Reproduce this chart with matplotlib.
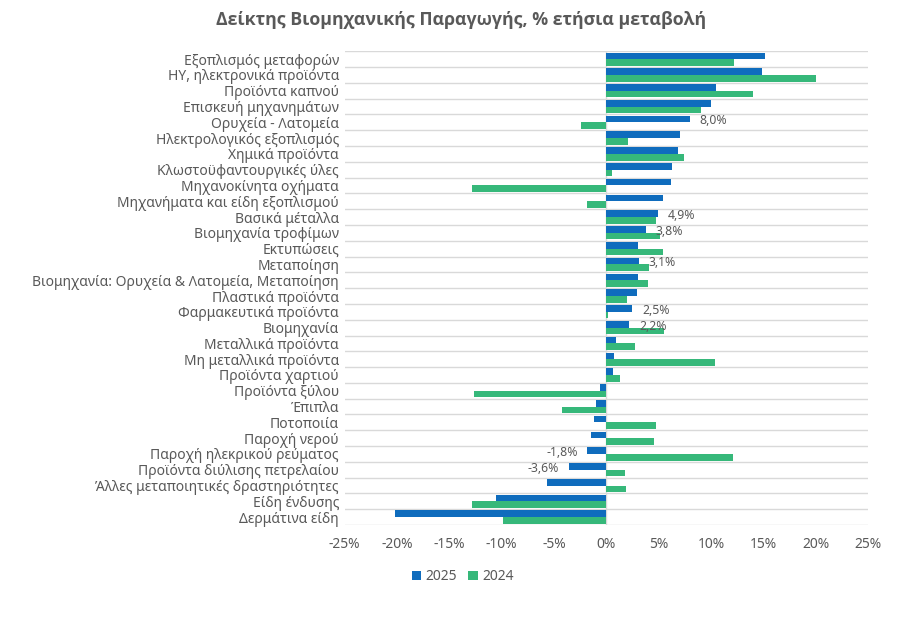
import matplotlib
matplotlib.use("Agg")
import matplotlib.pyplot as plt
from matplotlib.ticker import FuncFormatter, MultipleLocator

plt.rcParams['font.family'] = ['Noto Sans', 'DejaVu Sans']

categories = [
    "Εξοπλισμός μεταφορών", "ΗΥ, ηλεκτρονικά προϊόντα", "Προϊόντα καπνού",
    "Επισκευή μηχανημάτων", "Ορυχεία - Λατομεία", "Ηλεκτρολογικός εξοπλισμός",
    "Χημικά προϊόντα", "Κλωστοϋφαντουργικές ύλες", "Μηχανοκίνητα οχήματα",
    "Μηχανήματα και είδη εξοπλισμού", "Βασικά μέταλλα", "Βιομηχανία τροφίμων",
    "Εκτυπώσεις", "Μεταποίηση", "Βιομηχανία: Ορυχεία & Λατομεία, Μεταποίηση",
    "Πλαστικά προϊόντα", "Φαρμακευτικά προϊόντα", "Βιομηχανία",
    "Μεταλλικά προϊόντα", "Μη μεταλλικά προϊόντα", "Προϊόντα χαρτιού",
    "Προϊόντα ξύλου", "Έπιπλα", "Ποτοποιία", "Παροχή νερού",
    "Παροχή ηλεκρικού ρεύματος", "Προϊόντα διύλισης πετρελαίου",
    "Άλλες μεταποιητικές δραστηριότητες", "Είδη ένδυσης", "Δερμάτινα είδη",
]
y2025 = [15.2, 14.9, 10.5, 10.0, 8.0, 7.0, 6.8, 6.3, 6.2, 5.4, 4.9, 3.8,
         3.0, 3.1, 3.0, 2.9, 2.5, 2.2, 0.9, 0.7, 0.6, -0.6, -1.0, -1.2,
         -1.5, -1.8, -3.6, -5.7, -10.5, -20.2]
y2024 = [12.2, 20.0, 14.0, 9.0, -2.4, 2.1, 7.4, 0.55, -12.8, -1.8, 4.7, 5.1,
         5.4, 4.1, 4.0, 2.0, 0.2, 5.5, 2.7, 10.4, 1.3, -12.6, -4.2, 4.7,
         4.6, 12.1, 1.8, 1.9, -12.8, -9.9]
labelled = ["Ορυχεία - Λατομεία", "Βασικά μέταλλα", "Βιομηχανία τροφίμων",
            "Μεταποίηση", "Φαρμακευτικά προϊόντα", "Βιομηχανία",
            "Παροχή ηλεκρικού ρεύματος", "Προϊόντα διύλισης πετρελαίου"]

blue = '#0F6CBD'
green = '#36B87A'
grey = '#595959'

fig = plt.figure(figsize=(9.07, 6.25), dpi=100)
ax = fig.add_axes([0.380, 0.160, 0.577, 0.758])

n = len(categories)
pos = list(range(n))
h = 0.42
ax.barh([p - h / 2 for p in pos], y2025, height=h, color=blue, label='2025', zorder=3)
ax.barh([p + h / 2 for p in pos], y2024, height=h, color=green, label='2024', zorder=3)

for i, c in enumerate(categories):
    if c in labelled:
        v = y2025[i]
        txt = f"{v:.1f}%".replace('.', ',')
        if v >= 0:
            ax.annotate(txt, (v, i - 0.1), xytext=(7, 0), textcoords='offset points',
                        ha='left', va='center', fontsize=8.8, color=grey, zorder=4)
        else:
            ax.annotate(txt, (v, i - 0.1), xytext=(-7, 0), textcoords='offset points',
                        ha='right', va='center', fontsize=8.8, color=grey, zorder=4)

ax.set_ylim(n - 0.5, -0.5)
ax.set_xlim(-25, 25)
ax.set_yticks(pos)
ax.set_yticklabels(categories, fontsize=10, color=grey)
ax.set_yticks([p + 0.5 for p in range(-1, n)], minor=True)
ax.grid(axis='y', which='minor', color='#D9D9D9', linewidth=1, zorder=0)
ax.tick_params(axis='y', which='both', length=0, pad=4)
ax.xaxis.set_major_locator(MultipleLocator(5))
ax.xaxis.set_major_formatter(FuncFormatter(lambda x, p: f"{x:.0f}%"))
ax.tick_params(axis='x', length=0, labelsize=10, labelcolor=grey, pad=9)
ax.axvline(0, color='#D9D9D9', linewidth=1, zorder=1)
for s in ax.spines.values():
    s.set_visible(False)

fig.text(0.508, 0.968, "Δείκτης Βιομηχανικής Παραγωγής, % ετήσια μεταβολή",
         ha='center', va='center', fontsize=12.8, fontweight='bold', color=grey,
         family=['Open Sans', 'DejaVu Sans'])

fig.legend(loc='center', bbox_to_anchor=(0.51, 0.077), ncol=2, frameon=False,
           fontsize=10, handlelength=0.7, handleheight=0.7, handletextpad=0.3,
           columnspacing=0.8, labelcolor=grey)

fig.savefig('out.png', dpi=100)
